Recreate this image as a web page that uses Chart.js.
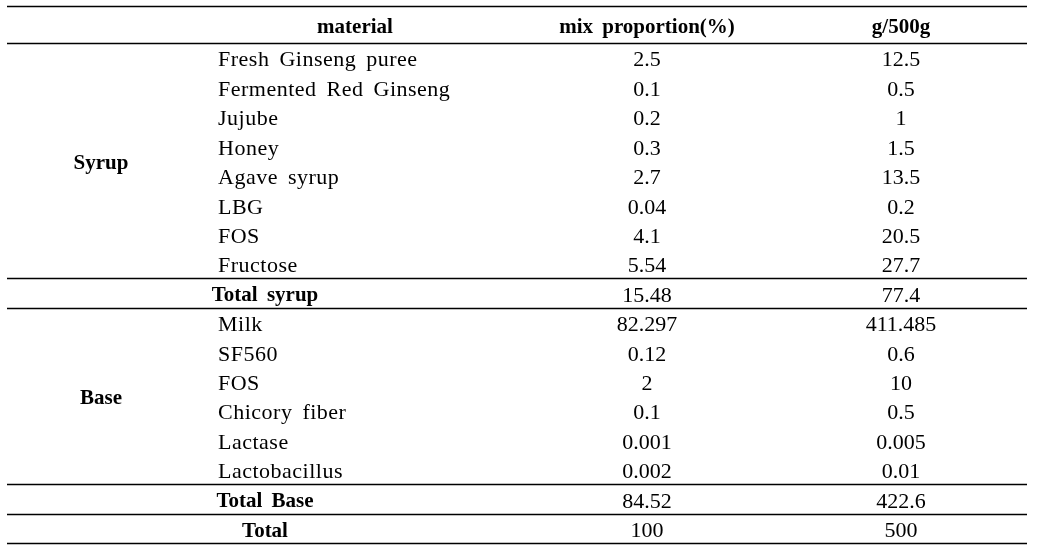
<!DOCTYPE html>
<html>
<head>
<meta charset="utf-8">
<script src="https://cdn.jsdelivr.net/npm/chart.js@4/dist/chart.umd.min.js"></script>
<style>
  body { margin: 0; background: #fff; }
  canvas { display: block; }
</style>
</head>
<body>
<canvas id="table" width="1044" height="553"></canvas>
<script>
// table content
const headers = ['material', 'mix proportion(%)', 'g/500g'];
const materials = ['Fresh Ginseng puree', 'Fermented Red Ginseng', 'Jujube', 'Honey', 'Agave syrup', 'LBG', 'FOS', 'Fructose',
    'Total syrup', 'Milk', 'SF560', 'FOS', 'Chicory fiber', 'Lactase', 'Lactobacillus', 'Total Base', 'Total'];
const mixProportion = [2.5, 0.1, 0.2, 0.3, 2.7, 0.04, 4.1, 5.54, 15.48, 82.297, 0.12, 2, 0.1, 0.001, 0.002, 84.52, 100];
const gPer500g = [12.5, 0.5, 1, 1.5, 13.5, 0.2, 20.5, 27.7, 77.4, 411.485, 0.6, 10, 0.5, 0.005, 0.01, 422.6, 500];
const groupLabels = ['Syrup', 'Base'];
const groupRows = [[0, 7], [9, 14]];
const totalRows = [8, 15, 16];

// layout (x in axis units, y in row units)
const colX = { group: 94, material: 211, header: 348, totals: 258, mix: 640, grams: 894 };
const ruleRows = [-1.76, -0.5, 7.5, 8.5, 14.5, 15.5, 16.5];
const headerRow = -1.13;
const textShift = 0.1;
const serif = '"Liberation Serif", "Times New Roman", serif';

const tablePlugin = {
    id: 'tableText',
    afterDraw(chart) {
        const ctx = chart.ctx;
        const x = chart.scales.x, y = chart.scales.y;
        const left = chart.chartArea.left, right = chart.chartArea.right;
        ctx.save();
        ctx.fillStyle = '#000';
        ctx.strokeStyle = '#000';
        ctx.textBaseline = 'middle';
        ctx.wordSpacing = '4px';

        // horizontal rules
        ctx.lineWidth = 1.4;
        ruleRows.forEach(r => {
            const py = Math.round(y.getPixelForValue(r)) + 0.5;
            ctx.beginPath();
            ctx.moveTo(left, py);
            ctx.lineTo(right, py);
            ctx.stroke();
        });

        // header
        ctx.font = 'bold 21px ' + serif;
        ctx.textAlign = 'center';
        const hy = y.getPixelForValue(headerRow + textShift);
        ctx.fillText(headers[0], x.getPixelForValue(colX.header), hy);
        ctx.fillText(headers[1], x.getPixelForValue(colX.mix), hy);
        ctx.fillText(headers[2], x.getPixelForValue(colX.grams), hy);

        // group labels
        groupLabels.forEach((g, i) => {
            const mid = (groupRows[i][0] + groupRows[i][1]) / 2;
            ctx.fillText(g, x.getPixelForValue(colX.group), y.getPixelForValue(mid + textShift));
        });

        // rows
        materials.forEach((m, i) => {
            const py = y.getPixelForValue(i + textShift);
            if (totalRows.includes(i)) {
                ctx.font = 'bold 21px ' + serif;
                ctx.textAlign = 'center';
                ctx.letterSpacing = '0px';
                ctx.fillText(m, x.getPixelForValue(colX.totals), py);
            } else {
                ctx.font = '22px ' + serif;
                ctx.textAlign = 'left';
                ctx.letterSpacing = '0.5px';
                ctx.fillText(m, x.getPixelForValue(colX.material), py);
            }
            ctx.letterSpacing = '0px';
            ctx.font = '22px ' + serif;
            ctx.textAlign = 'center';
            ctx.fillText(String(mixProportion[i]), x.getPixelForValue(colX.mix), py);
            ctx.fillText(String(gPer500g[i]), x.getPixelForValue(colX.grams), py);
        });
        ctx.restore();
    }
};

new Chart(document.getElementById('table'), {
    type: 'scatter',
    data: {
        datasets: [{
            data: materials.map((m, i) => ({ x: colX.mix, y: i })),
            pointRadius: 0,
        }]
    },
    options: {
        responsive: false,
        animation: false,
        layout: {
            padding: { left: 7, right: 17, top: 6, bottom: 10 }
        },
        plugins: {
            legend: { display: false },
            tooltip: { enabled: false },
        },
        scales: {
            x: { type: 'linear', display: false, min: 0, max: 1020 },
            y: { type: 'linear', display: false, min: -1.76, max: 16.5, reverse: true }
        }
    },
    plugins: [tablePlugin]
});
</script>
</body>
</html>
